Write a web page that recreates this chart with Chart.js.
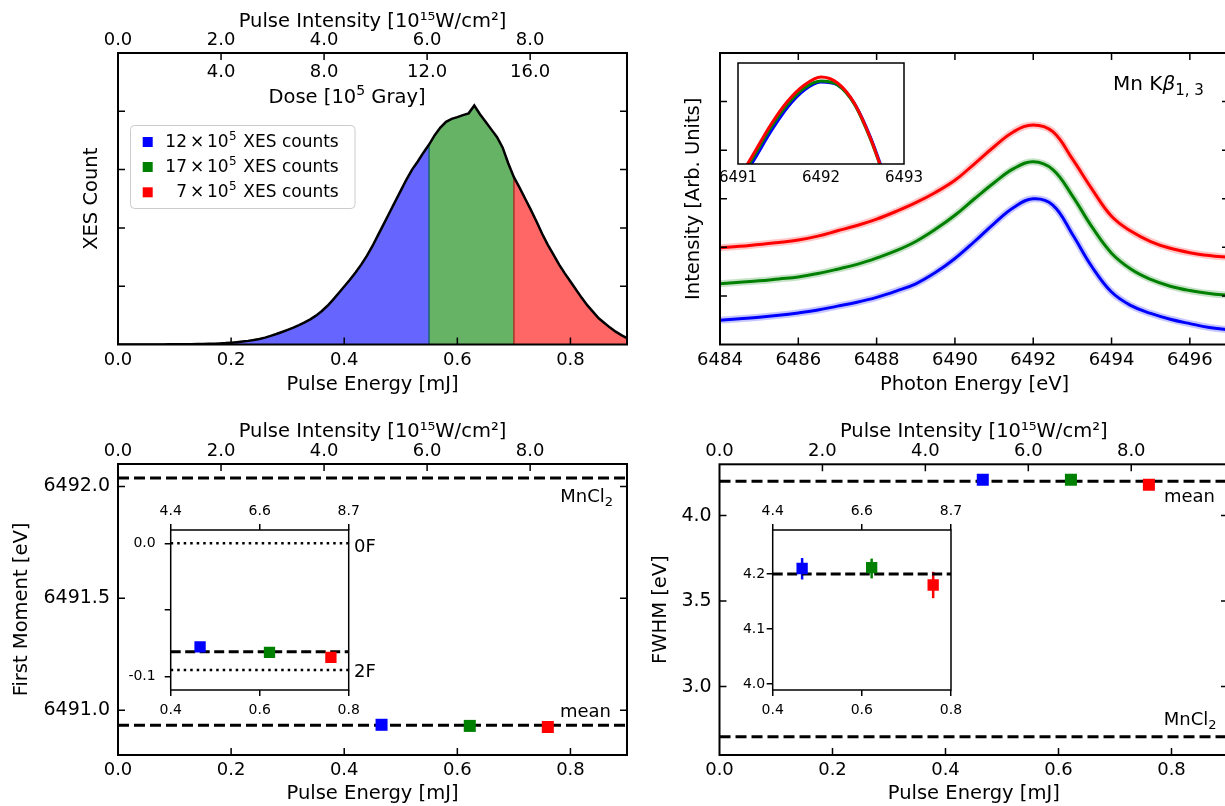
<!DOCTYPE html>
<html><head><meta charset="utf-8">
<script src="https://cdn.jsdelivr.net/npm/chart.js@4.4.1/dist/chart.umd.min.js"></script>
<style>
html,body{margin:0;padding:0;background:#fff;width:1225px;height:806px;overflow:hidden;}
#wrap{position:relative;width:1225px;height:806px;overflow:hidden;background:#fff;}
canvas{position:absolute;}
</style></head><body><div id="wrap">
<canvas id="tl" width="640" height="400" style="left:0;top:0"></canvas>
<canvas id="tr" width="600" height="400" style="left:640px;top:0"></canvas>
<canvas id="bl" width="640" height="401" style="left:0;top:405px"></canvas>
<canvas id="br" width="600" height="401" style="left:640px;top:405px"></canvas>
<canvas id="tri" width="230" height="140" style="left:700px;top:55px"></canvas>
<canvas id="bli" width="270" height="240" style="left:120px;top:485px"></canvas>
<canvas id="bri" width="270" height="240" style="left:700px;top:485px"></canvas>
</div>
<script>
// ---------------- data ----------------
const energyTicks = [0, 0.2, 0.4, 0.6, 0.8];
const intensityTicks = [0, 2, 4, 6, 8];
const doseTickValues = [2, 4, 6, 8];
const doseTickLabels = ['4.0', '8.0', '12.0', '16.0'];
const countTicks = [1000, 2000, 3000, 4000];

const histEnergy = [0.00,0.01,0.02,0.03,0.04,0.05,0.06,0.07,0.08,0.09,
  0.10,0.11,0.12,0.13,0.14,0.15,0.16,0.17,0.18,0.19,
  0.20,0.21,0.22,0.23,0.24,0.25,0.26,0.27,0.28,0.29,
  0.30,0.31,0.32,0.33,0.34,0.35,0.36,0.37,0.38,0.39,
  0.40,0.41,0.42,0.43,0.44,0.45,0.46,0.47,0.48,0.49,
  0.50,0.51,0.52,0.53,0.54,0.55,0.56,0.57,0.58,0.59,
  0.60,0.61,0.62,0.63,0.64,0.65,0.66,0.67,0.68,0.69,
  0.70,0.71,0.72,0.73,0.74,0.75,0.76,0.77,0.78,0.79,
  0.80,0.81,0.82,0.83,0.84,0.85,0.86,0.87,0.88,0.89,0.90];
const histCounts = [0,0,0,0,0,1,1,2,2,3,
  3,4,5,6,8,10,12,15,19,24,
  32,40,50,62,77,95,118,148,180,215,
  252,290,332,378,432,495,570,660,765,880,
  995,1110,1235,1370,1520,1690,1880,2070,2260,2450,
  2640,2830,3000,3140,3290,3430,3590,3720,3820,3870,
  3900,3935,3965,4100,3950,3820,3690,3560,3380,3110,
  2870,2690,2500,2310,2110,1900,1710,1540,1370,1220,
  1080,940,800,670,560,450,370,290,220,160,110];
const cutLow = 0.55, cutHigh = 0.70;
const legendNums = ['12', '17', '7'];
const legendText = 'XES counts';
const binColors = ['#0000ff', '#008000', '#ff0000'];
const binFills = ['rgba(0,0,255,0.6)', 'rgba(0,128,0,0.6)', 'rgba(255,0,0,0.6)'];

const photonTicks = [6484, 6486, 6488, 6490, 6492, 6494, 6496];
const specYTicks = [1, 2, 3, 4, 5];
const photonEnergy = [6484, 6484.5, 6485, 6485.5, 6486, 6486.5, 6487, 6487.5, 6488, 6488.5, 6489, 6489.5, 6490, 6490.5,
  6491, 6491.5, 6492, 6492.5, 6493, 6493.5, 6494, 6494.5, 6495, 6495.5, 6496, 6496.5, 6497];
const specBlue  = [0.50, 0.53, 0.56, 0.60, 0.65, 0.71, 0.79, 0.87, 0.97, 1.10, 1.25, 1.48, 1.77, 2.12,
  2.49, 2.82, 3.00, 2.87, 2.27, 1.60, 1.08, 0.80, 0.64, 0.52, 0.43, 0.35, 0.30];
const specGreen = [1.25, 1.28, 1.31, 1.35, 1.39, 1.46, 1.55, 1.65, 1.78, 1.93, 2.12, 2.37, 2.66, 3.00,
  3.33, 3.62, 3.76, 3.60, 3.06, 2.42, 1.88, 1.55, 1.34, 1.20, 1.11, 1.05, 1.01];
const specRed   = [1.99, 2.02, 2.06, 2.10, 2.15, 2.23, 2.34, 2.45, 2.58, 2.74, 2.92, 3.13, 3.38, 3.72,
  4.07, 4.38, 4.52, 4.38, 3.82, 3.20, 2.64, 2.33, 2.12, 1.98, 1.89, 1.83, 1.79];

const insetPhotonTicks = [6491, 6492, 6493];
const insetPhoton = [6491.0, 6491.2, 6491.4, 6491.6, 6491.8, 6492.0, 6492.2, 6492.4, 6492.6, 6492.8];
const insetRed   = [-16, 12, 40, 63, 79, 87, 81, 61, 25, -22];
const insetGreen = [-19, 9, 37, 60, 76, 83, 79, 60, 24, -22];
const insetBlue  = [-22, 5, 33, 57, 74, 82, 79, 61, 26, -20];

const binEnergy = [0.466, 0.622, 0.760];
const fmTicks = [6491.0, 6491.5, 6492.0];
const fmValues = [6490.935, 6490.930, 6490.925];
const fmMean = 6490.933;
const fmMnCl2 = 6492.038;
const insetETicks = [0.4, 0.6, 0.8];
const insetIntensityLabels = ['4.4', '6.6', '8.7'];
const fmInsetTicks = [0.0, -0.05, -0.1];
const fmInsetLabels = ['0.0', '', '-0.1'];
const fmShift = [-0.0776, -0.0818, -0.0855];
const fmShiftMean = -0.0813;
const zeroF = 0.0, twoF = -0.095;

const fwhmTicks = [3.0, 3.5, 4.0];
const fwhmValues = [4.21, 4.21, 4.18];
const fwhmMean = 4.201;
const fwhmMnCl2 = 2.707;
const fwhmInsetTicks = [4.0, 4.1, 4.2];
const fwhmInset = [4.210, 4.2115, 4.180];
const fwhmErrLow = [4.190, 4.192, 4.156];
const fwhmErrHigh = [4.229, 4.228, 4.204];
const fwhmInsetMean = 4.2;

// ---------------- helpers ----------------
const F = "'DejaVu Sans', sans-serif";
const TS = 19.5; // axis title size
Chart.defaults.font.family = F;
Chart.defaults.color = '#000';
Chart.defaults.animation = false;

function axis(o) {
  const vert = o.pos === 'left' || o.pos === 'right';
  return {
    type: 'linear', position: o.pos, min: o.min, max: o.max,
    grid: o.grid || {display: false, drawTicks: false},
    border: {display: false},
    ticks: {display: !!o.fmt, font: {family: F, size: o.size || 18}, color: '#000', padding: o.pad || 0,
      maxRotation: 0, minRotation: 0, autoSkip: false, includeBounds: false, callback: o.fmt || (() => '')},
    title: o.title ? {display: true, text: o.title, color: '#000', font: {family: F, size: TS}, padding: o.tpad} : {display: false},
    afterBuildTicks: s => { s.ticks = o.vals.map(v => ({value: v})); },
    afterFit: s => { if (vert) s.width = o.fix; else s.height = o.fix; }
  };
}
const insetGrid = {display: true, drawOnChartArea: false, drawTicks: true, tickLength: 6, color: '#000', lineWidth: 1.5};

const framePlugin = {
  id: 'frame',
  defaults: {width: 2, tickLen: 0, bg: false},
  beforeDraw(chart, args, o) {
    if (!o.bg) return;
    const a = chart.chartArea, ctx = chart.ctx;
    ctx.save(); ctx.fillStyle = '#fff';
    ctx.fillRect(a.left, a.top, a.right - a.left, a.bottom - a.top);
    ctx.restore();
  },
  afterDatasetsDraw(chart, args, o) {
    const a = chart.chartArea, ctx = chart.ctx;
    ctx.save();
    ctx.strokeStyle = '#000';
    const L = o.tickLen;
    if (L) {
      ctx.lineWidth = 1.5;
      ctx.beginPath();
      const near = (p, e) => Math.abs(p - e) < 1.5;
      if (o.bottom) o.bottom.vals.forEach(v => { const p = chart.scales[o.bottom.scale].getPixelForValue(v); if (near(p, a.left) || near(p, a.right)) return; ctx.moveTo(p, a.bottom); ctx.lineTo(p, a.bottom - L); });
      if (o.top) o.top.vals.forEach(v => { const p = chart.scales[o.top.scale].getPixelForValue(v); if (near(p, a.left) || near(p, a.right)) return; ctx.moveTo(p, a.top); ctx.lineTo(p, a.top + L); });
      if (o.sides) o.sides.vals.forEach(v => { const p = chart.scales[o.sides.scale].getPixelForValue(v); if (near(p, a.top) || near(p, a.bottom)) return; ctx.moveTo(a.left, p); ctx.lineTo(a.left + L, p); ctx.moveTo(a.right, p); ctx.lineTo(a.right - L, p); });
      ctx.stroke();
    }
    ctx.lineWidth = o.width;
    ctx.strokeRect(a.left, a.top, a.right - a.left, a.bottom - a.top);
    ctx.restore();
  }
};
Chart.register(framePlugin);

function rich(ctx, parts, x, y, align) {
  let w = 0;
  parts.forEach(p => { ctx.font = (p.it ? 'italic ' : '') + p.s + 'px ' + F; p.w = ctx.measureText(p.t).width; w += p.w; });
  let cx = align === 'right' ? x - w : (align === 'center' ? x - w / 2 : x);
  ctx.textAlign = 'left'; ctx.textBaseline = 'alphabetic'; ctx.fillStyle = '#000';
  parts.forEach(p => { ctx.font = (p.it ? 'italic ' : '') + p.s + 'px ' + F; ctx.fillText(p.t, cx, y + (p.dy || 0)); cx += p.w; });
}
const pts = (xs, ys) => xs.map((x, i) => ({x: x, y: ys[i]}));
const hline = (x0, x1, y) => [{x: x0, y: y}, {x: x1, y: y}];
const baseOpts = (pad) => ({responsive: false, animation: false, devicePixelRatio: 1, layout: {padding: pad}});
const noLegend = {legend: {display: false}, tooltip: {enabled: false}};
const INT_TITLE = 'Pulse Intensity [10\u00b9\u2075W/cm\u00b2]';

// ---------------- top-left: histogram ----------------
const histAll = pts(histEnergy, histCounts);
const segBlue = histAll.filter(p => p.x <= cutLow + 1e-9);
const segGreen = histAll.filter(p => p.x >= cutLow - 1e-9 && p.x <= cutHigh + 1e-9);
const segRed = histAll.filter(p => p.x >= cutHigh - 1e-9);
const yAt = (e) => histCounts[histEnergy.findIndex(v => Math.abs(v - e) < 1e-9)];

const tlAnnot = {
  id: 'tlAnnot',
  afterDraw(chart) {
    const ctx = chart.ctx, x2 = chart.scales.x2;
    ctx.save();
    ctx.font = '18px ' + F; ctx.textAlign = 'center'; ctx.textBaseline = 'alphabetic'; ctx.fillStyle = '#000';
    doseTickValues.forEach((v, i) => ctx.fillText(doseTickLabels[i], x2.getPixelForValue(v), 76.7));
    rich(ctx, [{t: 'Dose [10', s: TS}, {t: '5', s: 14, dy: -8}, {t: ' Gray]', s: TS}], 347, 103.3, 'center');
    ctx.beginPath();
    ctx.roundRect(130.5, 125.5, 224.5, 83, 4);
    ctx.fillStyle = 'rgba(255,255,255,0.85)'; ctx.fill();
    ctx.strokeStyle = '#cccccc'; ctx.lineWidth = 1; ctx.stroke();
    const bases = [146.7, 171.7, 197.0];
    bases.forEach((b, i) => {
      ctx.fillStyle = binColors[i];
      ctx.fillRect(142.7, b - 9.7, 10, 10);
      ctx.fillStyle = '#000';
      ctx.font = '17px ' + F; ctx.textAlign = 'right';
      ctx.fillText(legendNums[i], 187, b);
      ctx.textAlign = 'left';
      ctx.fillText('\u00d7', 190, b);
      ctx.fillText('10', 207, b);
      ctx.font = '12px ' + F; ctx.fillText('5', 229, b - 7);
      ctx.font = '17px ' + F; ctx.fillText(legendText, 243.3, b);
    });
    ctx.restore();
  }
};

new Chart(document.getElementById('tl'), {
  type: 'line',
  data: {datasets: [
    {data: histAll, borderColor: '#000', borderWidth: 2.5, pointRadius: 0, fill: false},
    {data: [{x: cutLow, y: 0}, {x: cutLow, y: yAt(cutLow)}], borderColor: 'rgba(20,95,105,0.95)', borderWidth: 1.5, pointRadius: 0, fill: false},
    {data: [{x: cutHigh, y: 0}, {x: cutHigh, y: yAt(cutHigh)}], borderColor: 'rgba(160,45,30,0.95)', borderWidth: 1.5, pointRadius: 0, fill: false},
    {data: segBlue, borderWidth: 0, borderColor: 'rgba(0,0,0,0)', backgroundColor: binFills[0], fill: 'origin', pointRadius: 0},
    {data: segGreen, borderWidth: 0, borderColor: 'rgba(0,0,0,0)', backgroundColor: binFills[1], fill: 'origin', pointRadius: 0},
    {data: segRed, borderWidth: 0, borderColor: 'rgba(0,0,0,0)', backgroundColor: binFills[2], fill: 'origin', pointRadius: 0}
  ]},
  options: Object.assign(baseOpts({left: 0, top: 0, right: 13, bottom: 0}), {
    plugins: Object.assign({}, noLegend, {frame: {width: 2, tickLen: 7,
      bottom: {scale: 'x', vals: energyTicks}, top: {scale: 'x2', vals: intensityTicks}, sides: {scale: 'y', vals: countTicks}}}),
    scales: {
      x: axis({pos: 'bottom', min: 0, max: 0.9, vals: energyTicks, fmt: v => v.toFixed(1), pad: 4.7, fix: 55.5, title: 'Pulse Energy [mJ]', tpad: {top: 0, bottom: 3.3}}),
      x2: axis({pos: 'top', min: 0, max: 9.88, vals: intensityTicks, fmt: v => v.toFixed(1), pad: 2.2, fix: 53, title: INT_TITLE, tpad: {top: 10.1, bottom: 0}}),
      y: axis({pos: 'left', min: 0, max: 5000, vals: countTicks, fix: 118, title: 'XES Count', tpad: {top: 80.3, bottom: 0}})
    }
  }),
  plugins: [tlAnnot]
});

// ---------------- top-right: spectra ----------------
const trAnnot = {
  id: 'trAnnot',
  afterDraw(chart) {
    const ctx = chart.ctx; ctx.save();
    rich(ctx, [{t: 'Mn K', s: 20}, {t: '\u03b2', s: 20, it: true}, {t: '1, 3', s: 15, dy: 5}], 473, 90, 'left');
    ctx.restore();
  }
};
const specLine = (ys, c, w) => ({data: pts(photonEnergy, ys), borderColor: c, borderWidth: w, pointRadius: 0, fill: false, tension: 0.4});
new Chart(document.getElementById('tr'), {
  type: 'line',
  data: {datasets: [
    specLine(specRed, '#ff0000', 3), specLine(specGreen, '#008000', 3), specLine(specBlue, '#0000ff', 3),
    specLine(specRed, 'rgba(255,0,0,0.22)', 7), specLine(specGreen, 'rgba(0,128,0,0.22)', 7), specLine(specBlue, 'rgba(0,0,255,0.22)', 7)
  ]},
  options: Object.assign(baseOpts({left: 0, top: 53, right: 11, bottom: 0}), {
    plugins: Object.assign({}, noLegend, {frame: {width: 2, tickLen: 7,
      bottom: {scale: 'x', vals: photonTicks}, top: {scale: 'x', vals: photonTicks}, sides: {scale: 'y', vals: specYTicks}}}),
    scales: {
      x: axis({pos: 'bottom', min: 6484, max: 6497, vals: photonTicks, fmt: v => String(v), pad: 4.7, fix: 55.5, title: 'Photon Energy [eV]', tpad: {top: 0, bottom: 3.3}}),
      y: axis({pos: 'left', min: 0, max: 6, vals: specYTicks, fix: 80, title: 'Intensity [Arb. Units]', tpad: {top: 42.3, bottom: 0}})
    }
  }),
  plugins: [trAnnot]
});

// inset top-right
const insetLine = (ys, c) => ({data: pts(insetPhoton, ys), borderColor: c, borderWidth: 3, pointRadius: 0, fill: false, cubicInterpolationMode: 'monotone'});
new Chart(document.getElementById('tri'), {
  type: 'line',
  data: {datasets: [insetLine(insetRed, '#ff0000'), insetLine(insetGreen, '#008000'), insetLine(insetBlue, '#0000ff')]},
  options: Object.assign(baseOpts({left: 38, top: 8, right: 26, bottom: 0}), {
    plugins: Object.assign({}, noLegend, {frame: {width: 1.5, bg: true}}),
    scales: {
      x: axis({pos: 'bottom', min: 6491, max: 6493, vals: insetPhotonTicks, fmt: v => String(v), size: 15, pad: 5, fix: 31}),
      y: {type: 'linear', display: false, min: 0, max: 101}
    }
  })
});

// ---------------- bottom-left: first moment ----------------
const dashed = (y, x0, x1, w, dash) => ({data: hline(x0, x1, y), borderColor: '#000', borderWidth: w, borderDash: dash, borderCapStyle: 'butt', pointRadius: 0, fill: false});
const squares = (ys, r) => ({data: pts(binEnergy, ys), showLine: false, pointStyle: 'rect', pointRadius: r, pointHoverRadius: r, pointBackgroundColor: binColors, pointBorderWidth: 0, borderWidth: 0});

const blAnnot = {
  id: 'blAnnot',
  afterDraw(chart) {
    const ctx = chart.ctx; ctx.save();
    rich(ctx, [{t: 'MnCl', s: 18}, {t: '2', s: 13, dy: 4}], 613, 96.7, 'right');
    rich(ctx, [{t: 'mean', s: 18}], 611, 311.7, 'right');
    ctx.restore();
  }
};
new Chart(document.getElementById('bl'), {
  type: 'line',
  data: {datasets: [squares(fmValues, 8.5), dashed(fmMean, 0, 0.9, 3, [11, 5]), dashed(fmMnCl2, 0, 0.9, 3, [11, 5])]},
  options: Object.assign(baseOpts({left: 0, top: 0, right: 13, bottom: 0}), {
    plugins: Object.assign({}, noLegend, {frame: {width: 2, tickLen: 7,
      bottom: {scale: 'x', vals: energyTicks}, top: {scale: 'x2', vals: intensityTicks}, sides: {scale: 'y', vals: fmTicks}}}),
    scales: {
      x: axis({pos: 'bottom', min: 0, max: 0.9, vals: energyTicks, fmt: v => v.toFixed(1), pad: 4.2, fix: 51, title: 'Pulse Energy [mJ]', tpad: {top: 0, bottom: 0}}),
      x2: axis({pos: 'top', min: 0, max: 9.88, vals: intensityTicks, fmt: v => v.toFixed(1), pad: 1.5, fix: 59, title: INT_TITLE, tpad: {top: 15, bottom: 0}}),
      y: axis({pos: 'left', min: 6490.80, max: 6492.10, vals: fmTicks, fmt: v => v.toFixed(1), size: 19, pad: 8, fix: 118, title: 'First Moment [eV]', tpad: {top: 10.7, bottom: 0}})
    }
  }),
  plugins: [blAnnot]
});

// inset bottom-left
const bliAnnot = {
  id: 'bliAnnot',
  afterDraw(chart) {
    const ctx = chart.ctx; ctx.save();
    rich(ctx, [{t: '0F', s: 18}], 234, 66.7, 'left');
    rich(ctx, [{t: '2F', s: 18}], 234, 191.7, 'left');
    ctx.restore();
  }
};
new Chart(document.getElementById('bli'), {
  type: 'line',
  data: {datasets: [squares(fmShift, 8), dashed(fmShiftMean, 0.4, 0.8, 3, [10, 4.5]), dashed(zeroF, 0.4, 0.8, 2.5, [2.5, 4]), dashed(twoF, 0.4, 0.8, 2.5, [2.5, 4])]},
  options: Object.assign(baseOpts({left: 0, top: 0, right: 41.3, bottom: 0}), {
    plugins: Object.assign({}, noLegend, {frame: {width: 1.5, bg: true}}),
    scales: {
      x: axis({pos: 'bottom', min: 0.4, max: 0.8, vals: insetETicks, fmt: v => v.toFixed(1), size: 14, pad: 5.6, fix: 35, grid: insetGrid}),
      x2: axis({pos: 'top', min: 0.4, max: 0.8, vals: insetETicks, fmt: (v, i) => insetIntensityLabels[i], size: 14, pad: 3.9, fix: 45, grid: insetGrid}),
      y: axis({pos: 'left', min: -0.11, max: 0.01, vals: fmInsetTicks, fmt: (v, i) => fmInsetLabels[i], size: 14, pad: 9, fix: 50.7, grid: insetGrid})
    }
  }),
  plugins: [bliAnnot]
});

// ---------------- bottom-right: FWHM ----------------
const brAnnot = {
  id: 'brAnnot',
  afterDraw(chart) {
    const ctx = chart.ctx; ctx.save();
    rich(ctx, [{t: 'mean', s: 18}], 575, 96.7, 'right');
    rich(ctx, [{t: 'MnCl', s: 18}, {t: '2', s: 13, dy: 4}], 576.5, 320, 'right');
    ctx.restore();
  }
};
new Chart(document.getElementById('br'), {
  type: 'line',
  data: {datasets: [squares(fwhmValues, 8.5), dashed(fwhmMean, 0, 0.9, 3, [11, 5]), dashed(fwhmMnCl2, 0, 0.9, 3, [11, 5])]},
  options: Object.assign(baseOpts({left: 0, top: 0, right: 12, bottom: 0}), {
    plugins: Object.assign({}, noLegend, {frame: {width: 2, tickLen: 7,
      bottom: {scale: 'x', vals: energyTicks}, top: {scale: 'x2', vals: intensityTicks}, sides: {scale: 'y', vals: fwhmTicks}}}),
    scales: {
      x: axis({pos: 'bottom', min: 0, max: 0.9, vals: energyTicks, fmt: v => v.toFixed(1), pad: 4.2, fix: 51, title: 'Pulse Energy [mJ]', tpad: {top: 0, bottom: 0}}),
      x2: axis({pos: 'top', min: 0, max: 9.88, vals: intensityTicks, fmt: v => v.toFixed(1), pad: 1.8, fix: 59.3, title: INT_TITLE, tpad: {top: 15, bottom: 0}}),
      y: axis({pos: 'left', min: 2.60, max: 4.30, vals: fwhmTicks, fmt: v => v.toFixed(1), size: 19, pad: 7.8, fix: 79.5, title: 'FWHM [eV]', tpad: {top: 8.8, bottom: 0}})
    }
  }),
  plugins: [brAnnot]
});

// inset bottom-right
const errBars = {
  id: 'errBars',
  beforeDatasetsDraw(chart) {
    const ctx = chart.ctx, sx = chart.scales.x, sy = chart.scales.y;
    ctx.save(); ctx.lineWidth = 2.5;
    binEnergy.forEach((e, i) => {
      const x = sx.getPixelForValue(e);
      ctx.strokeStyle = binColors[i];
      ctx.beginPath();
      ctx.moveTo(x, sy.getPixelForValue(fwhmErrLow[i]));
      ctx.lineTo(x, sy.getPixelForValue(fwhmErrHigh[i]));
      ctx.stroke();
    });
    ctx.restore();
  }
};
new Chart(document.getElementById('bri'), {
  type: 'line',
  data: {datasets: [squares(fwhmInset, 8), dashed(fwhmInsetMean, 0.4, 0.8, 3, [10, 4.5])]},
  options: Object.assign(baseOpts({left: 0, top: 0, right: 19, bottom: 0}), {
    plugins: Object.assign({}, noLegend, {frame: {width: 1.5, bg: true}}),
    scales: {
      x: axis({pos: 'bottom', min: 0.4, max: 0.8, vals: insetETicks, fmt: v => v.toFixed(1), size: 14, pad: 5.6, fix: 35, grid: insetGrid}),
      x2: axis({pos: 'top', min: 0.4, max: 0.8, vals: insetETicks, fmt: (v, i) => insetIntensityLabels[i], size: 14, pad: 3.9, fix: 45, grid: insetGrid}),
      y: axis({pos: 'left', min: 3.989, max: 4.28, vals: fwhmInsetTicks, fmt: v => v.toFixed(1), size: 14, pad: 1.5, fix: 72.7, grid: insetGrid})
    }
  }),
  plugins: [errBars]
});
</script>
</body></html>
